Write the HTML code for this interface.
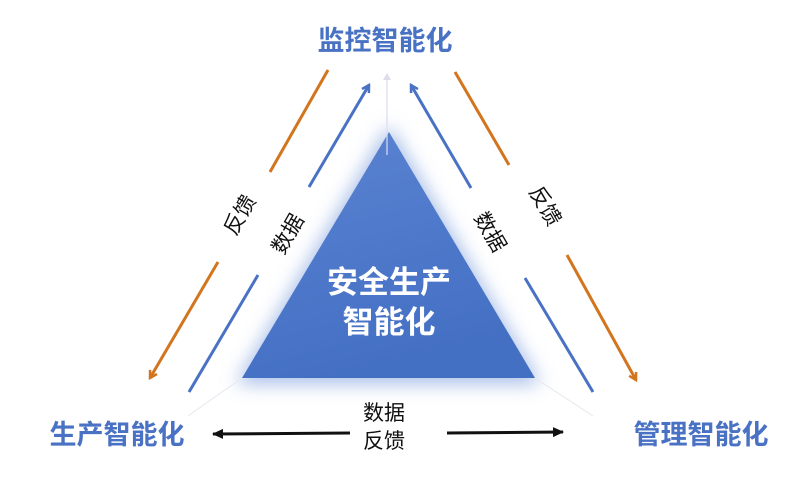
<!DOCTYPE html>
<html><head><meta charset="utf-8"><style>
body{margin:0;background:#fff;}
svg{display:block}
text{font-family:"Liberation Sans","Noto Sans CJK SC",sans-serif;}
</style></head><body>
<svg width="800" height="481" viewBox="0 0 800 481" xmlns="http://www.w3.org/2000/svg">
<defs>
<linearGradient id="g" x1="0" y1="0" x2="0.3" y2="1">
<stop offset="0" stop-color="#5b83d2"/><stop offset="1" stop-color="#4470c4"/>
</linearGradient>
<filter id="blur" x="-30%" y="-30%" width="160%" height="160%"><feGaussianBlur stdDeviation="9"/></filter>
<marker id="ab" markerWidth="10" markerHeight="10" refX="8" refY="5" orient="auto" markerUnits="userSpaceOnUse"><path d="M1,1 L8,5 L1,9" fill="none" stroke="#4a72c4" stroke-width="2.5"/></marker>
<marker id="ao" markerWidth="10" markerHeight="10" refX="8" refY="5" orient="auto" markerUnits="userSpaceOnUse"><path d="M1,1 L8,5 L1,9" fill="none" stroke="#d2751e" stroke-width="2.5"/></marker>
<marker id="ak" markerWidth="12" markerHeight="12" refX="10" refY="6" orient="auto" markerUnits="userSpaceOnUse"><path d="M0,1 L11,6 L0,11 Z" fill="#111"/></marker>
<marker id="ag" markerWidth="8" markerHeight="8" refX="6" refY="4" orient="auto" markerUnits="userSpaceOnUse"><path d="M0,0 L7,4 L0,8 Z" fill="#dde"/></marker>
</defs>
<polygon points="389,125 236,384 541,384" fill="#a9bfe8" filter="url(#blur)"/>
<polygon points="389,132 242,378 535,378" fill="url(#g)"/>
<line x1="387" y1="155" x2="387" y2="74" stroke="#dde" stroke-width="1.2" marker-end="url(#ag)"/>
<line x1="242" y1="378" x2="188" y2="416" stroke="#e6e8ef" stroke-width="1"/>
<line x1="535" y1="378" x2="593" y2="416" stroke="#e6e8ef" stroke-width="1"/>
<!-- left -->
<line x1="328" y1="70" x2="270" y2="172" stroke="#d2751e" stroke-width="3"/>
<line x1="218" y1="262" x2="150" y2="378" stroke="#d2751e" stroke-width="3" marker-end="url(#ao)"/>
<line x1="309" y1="187" x2="369" y2="85" stroke="#4a72c4" stroke-width="3" marker-end="url(#ab)"/>
<line x1="258" y1="275" x2="189" y2="392" stroke="#4a72c4" stroke-width="3"/>
<!-- right -->
<line x1="471" y1="188" x2="411" y2="85" stroke="#4a72c4" stroke-width="3" marker-end="url(#ab)"/>
<line x1="525" y1="278" x2="593" y2="392" stroke="#4a72c4" stroke-width="3"/>
<line x1="455" y1="72" x2="509" y2="165" stroke="#d2751e" stroke-width="3"/>
<line x1="567" y1="255" x2="636" y2="380" stroke="#d2751e" stroke-width="3" marker-end="url(#ao)"/>
<!-- bottom -->
<line x1="350" y1="433" x2="213" y2="434" stroke="#111" stroke-width="3" marker-end="url(#ak)"/>
<line x1="447" y1="433" x2="563" y2="432" stroke="#111" stroke-width="3" marker-end="url(#ak)"/>
<g font-size="21" fill="#111" text-anchor="middle">
<text transform="translate(240,215) rotate(-60)" dy="7">反馈</text>
<text transform="translate(288,234) rotate(-60)" dy="7">数据</text>
<text transform="translate(490,232) rotate(60)" dy="7">数据</text>
<text transform="translate(545,206) rotate(60)" dy="7">反馈</text>
<text x="384" y="420">数据</text>
<text x="384" y="448">反馈</text>
</g>
<g font-weight="bold" fill="#4a72c4" font-size="27">
<text x="385" y="50" text-anchor="middle">监控智能化</text>
<text x="117" y="444" text-anchor="middle">生产智能化</text>
<text x="701" y="444" text-anchor="middle">管理智能化</text>
</g>
<g font-weight="bold" fill="#fff" font-size="31" text-anchor="middle">
<text x="389" y="293">安全生产</text>
<text x="389" y="333">智能化</text>
</g>
</svg>
</body></html>
